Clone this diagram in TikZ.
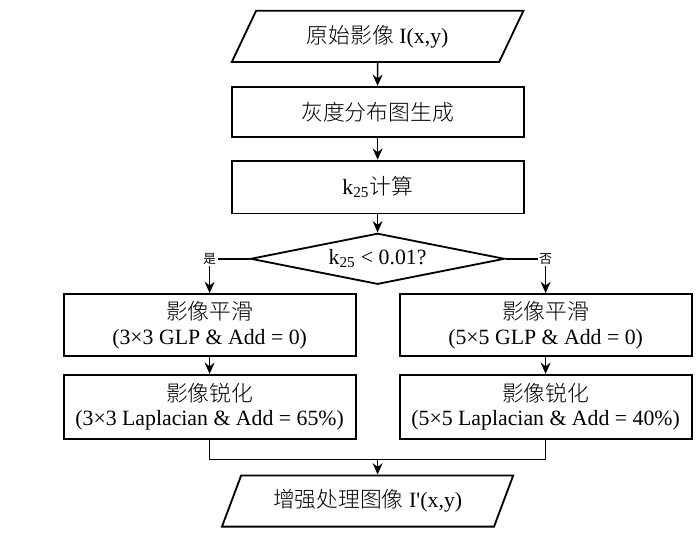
\documentclass[tikz,border=0pt]{standalone}
\usepackage{fontspec}
\setmainfont{Liberation Serif}
\newfontfamily\cjk{Noto Sans CJK SC}[UprightFont={* Light}]
\newfontfamily\cjkreg{Noto Sans CJK SC}
\usetikzlibrary{arrows.meta,positioning,shapes.geometric}

\begin{document}
\begin{tikzpicture}[
  txt/.style={font=\fontsize{15.5}{17.5}\selectfont},
  box/.style={rectangle, draw=black, line width=1.3pt, fill=white, txt,
    minimum width=7.3cm, minimum height=#1, align=center, inner sep=2pt},
  box/.default=1.25cm,
  io/.style={trapezium, trapezium left angle=65, trapezium right angle=115,
    trapezium stretches=true, draw=black, line width=1.3pt, fill=white, txt,
    minimum width=#1, minimum height=1.28cm},
  cond/.style={diamond, aspect=5, draw=black, line width=1.3pt, fill=white, txt,
    minimum width=6.35cm, minimum height=1.275cm, inner sep=1pt},
  lbl/.style={font=\fontsize{9}{10}\selectfont\cjkreg, inner sep=1pt},
  arr/.style={-{Stealth[length=8pt,width=7pt]}, line width=1pt}
]
\useasboundingbox (0,0) rectangle (17.475,-13.35);
\node[io=7.3cm] (src) at (9.44,-0.91) {{\cjk 原始影像} I(x,y)};
\node[box, below=0.575cm of src] (hist) {\cjk 灰度分布图生成};
\node[box=1.32cm, below=0.55cm of hist] (kcalc) {k\textsubscript{25}{\cjk 计算}};
\node[cond, below=0.45cm of kcalc] (test) {k\textsubscript{25} < 0.01?};
\node[box=1.55cm] (smoothA) at (5.24,-8.125) {{\cjk 影像平滑}\\(3×3 GLP \& Add = 0)};
\node[box=1.55cm] (smoothB) at (13.64,-8.125) {{\cjk 影像平滑}\\(5×5 GLP \& Add = 0)};
\node[box=1.6cm, below=0.425cm of smoothA] (sharpA) {{\cjk 影像锐化}\\(3×3 Laplacian \& Add = 65\%)};
\node[box=1.6cm, below=0.425cm of smoothB] (sharpB) {{\cjk 影像锐化}\\(5×5 Laplacian \& Add = 40\%)};
\node[lbl] (yes) at (smoothA |- test) {是};
\node[lbl] (no) at (smoothB |- test) {否};
\node[io=7.3cm] (dst) at (9.19,-12.525) {{\cjk 增强处理图像} I\textquotesingle(x,y)};
% main line
\draw[arr] (src) -- (hist);
\draw[arr] (hist) -- (kcalc);
\draw[arr] (kcalc) -- (test);
% branches
\draw[line width=1pt] (test.west) -- (yes);
\draw[line width=1pt] (test.east) -- (no);
\draw[arr] (yes) -- (smoothA);
\draw[arr] (no) -- (smoothB);
\draw[arr] (smoothA) -- (sharpA);
\draw[arr] (smoothB) -- (sharpB);
% merge
\draw[line width=1pt] (sharpA.south) -- ++(0,-0.5) coordinate (joinA) -| (sharpB.south);
\coordinate (join) at (test |- joinA);
\draw[arr] (join) -- (join |- dst.north);
\end{tikzpicture}
\end{document}
